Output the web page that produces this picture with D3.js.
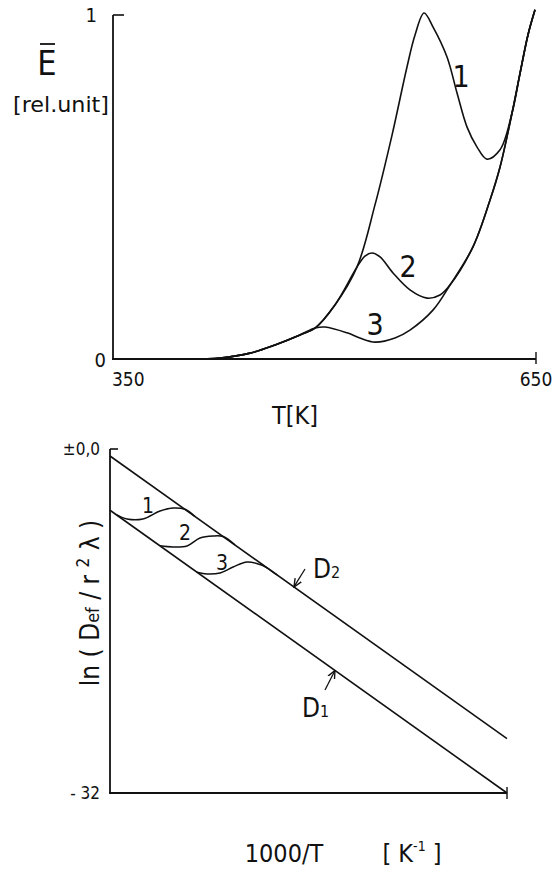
<!DOCTYPE html>
<html><head><meta charset="utf-8">
<script src="https://cdn.jsdelivr.net/npm/d3@7"></script>
<style>
body{margin:0;background:#fff;}
svg{display:block;}
text{font-family:"Liberation Sans Narrow","DejaVu Sans Condensed","Arial Narrow",sans-serif;fill:#111;}
</style></head><body>
<svg id="c" width="555" height="870"></svg>
<script>
// ---------- top panel data: E (rel. unit) vs T [K] ----------
const topXTicks = [350, 650];
const topYTicks = [0, 1];
const envLeftT = [404.6, 425.9, 447.2, 464.9, 482.6, 493.3, 507.4, 523.0, 535.8, 547.9, 558.5, 564.2, 570.6];
const envLeftE = [0, 0.003, 0.017, 0.041, 0.070, 0.090, 0.157, 0.267, 0.448, 0.651, 0.849, 0.942, 1.006];
const envRightT = [535.8, 550.0, 560.6, 576.9, 589.0, 605.3, 617.4, 624.5, 633.0, 638.7, 644.3, 649.3];
const envRightE = [0.049, 0.061, 0.084, 0.142, 0.215, 0.326, 0.462, 0.558, 0.715, 0.831, 0.942, 1.015];
const peak1T = [577.0, 586.9, 594.0, 601.1, 608.2, 615.2, 624.5];
const peak1E = [0.965, 0.878, 0.773, 0.674, 0.616, 0.581, 0.608];
const peak2T = [528.7, 533.7, 539.4, 548.6, 560.6, 572.7, 581.9];
const peak2E = [0.299, 0.308, 0.297, 0.250, 0.201, 0.177, 0.186];
const peak3T = [500.4, 516.0, 525.1];
const peak3E = [0.093, 0.076, 0.061];
const topCurveLabels = ["1", "2", "3"];
const topLabelT = [596.8, 559.2, 535.8];
const topLabelE = [0.823, 0.270, 0.102];

// ---------- bottom panel data: ln(Def / r^2 lambda) vs 1000/T ----------
const botYTicks = [0, -32];
const botYTickLabels = ["\u00b10,0", "- 32"];
const d1X = [1.5, 3.0], d1Y = [-5.7, -32.0];
const d2X = [1.5, 3.0], d2Y = [-0.65, -26.95];
const step1X = [1.526, 1.564, 1.624, 1.689, 1.738, 1.783, 1.821];
const step1Y = [-6.13, -6.51, -6.51, -5.77, -5.49, -5.61, -6.28];
const step2X = [1.689, 1.738, 1.791, 1.840, 1.889, 1.927, 1.972];
const step2Y = [-9.01, -9.12, -9.02, -8.28, -8.09, -8.14, -8.92];
const step3X = [1.829, 1.867, 1.916, 1.965, 2.018, 2.067, 2.093, 2.131];
const step3Y = [-11.47, -11.63, -11.53, -10.98, -10.51, -10.75, -11.05, -11.71];
const botCurveLabels = ["1", "2", "3"];
const botLabelX = [1.6436, 1.783, 1.923];
const botLabelY = [-5.21, -7.72, -10.51];

const zip = (xs, ys) => xs.map((x, i) => [x, ys[i]]);

const svg = d3.select("#c");
const ink = "#111";

// ================= TOP PANEL =================
const xT = d3.scaleLinear().domain([350, 650]).range([113, 536]);
const yE = d3.scaleLinear().domain([0, 1]).range([359, 15]);
const gT = svg.append("g");

gT.append("line").attr("x1", xT(350)).attr("x2", xT(350)).attr("y1", yE(0)).attr("y2", yE(1))
  .attr("stroke", ink).attr("stroke-width", 1.8);
gT.append("line").attr("x1", xT(350) - 1).attr("x2", xT(650)).attr("y1", yE(0)).attr("y2", yE(0))
  .attr("stroke", ink).attr("stroke-width", 1.8);
gT.append("line").attr("x1", xT(350)).attr("x2", xT(350) + 11).attr("y1", yE(1)).attr("y2", yE(1))
  .attr("stroke", ink).attr("stroke-width", 1.6);
gT.append("line").attr("x1", xT(650)).attr("x2", xT(650)).attr("y1", yE(0) - 7).attr("y2", yE(0) + 5)
  .attr("stroke", ink).attr("stroke-width", 1.4);

gT.append("text").attr("x", xT(350) - 16).attr("y", yE(1) + 7).attr("text-anchor", "end")
  .attr("font-size", 20).text(topYTicks[1]);
gT.append("text").attr("x", xT(350) - 7).attr("y", yE(0) + 8).attr("text-anchor", "end")
  .attr("font-size", 20).text(topYTicks[0]);
gT.append("text").attr("x", xT(topXTicks[0]) - 1).attr("y", yE(0) + 27).attr("text-anchor", "start")
  .attr("font-size", 19).text(topXTicks[0]);
gT.append("text").attr("x", xT(topXTicks[1])).attr("y", yE(0) + 27).attr("text-anchor", "middle")
  .attr("font-size", 19).text(topXTicks[1]);

gT.append("text").attr("x", 295).attr("y", 424).attr("text-anchor", "middle")
  .attr("font-size", 25).text("T[K]");
gT.append("text").attr("x", 47).attr("y", 75).attr("text-anchor", "middle")
  .attr("font-size", 34).text("E");
gT.append("line").attr("x1", 40).attr("x2", 55).attr("y1", 44).attr("y2", 44)
  .attr("stroke", ink).attr("stroke-width", 1.8);
gT.append("text").attr("x", 13).attr("y", 112).attr("text-anchor", "start")
  .attr("font-size", 21).attr("textLength", 96).attr("lengthAdjust", "spacingAndGlyphs")
  .text("[rel.unit]");

const lineT = d3.line().x(d => xT(d[0])).y(d => yE(d[1])).curve(d3.curveCatmullRom.alpha(0.5));
const left = zip(envLeftT, envLeftE), right = zip(envRightT, envRightE);
const series1 = left.concat(zip(peak1T, peak1E), right.filter(d => d[0] >= 633));
const series2 = left.filter(d => d[0] <= 523.0).concat(zip(peak2T, peak2E), right.filter(d => d[0] >= 589));
const series3 = left.filter(d => d[0] <= 493.3).concat(zip(peak3T, peak3E), right);
[series1, series2, series3].forEach(s => {
  gT.append("path").attr("d", lineT(s)).attr("fill", "none").attr("stroke", ink).attr("stroke-width", 1.6);
});
topCurveLabels.forEach((l, i) => {
  gT.append("text").attr("x", xT(topLabelT[i])).attr("y", yE(topLabelE[i]) + 11)
    .attr("text-anchor", "middle").attr("font-size", 30).text(l);
});

// ================= BOTTOM PANEL =================
const xB = d3.scaleLinear().domain([1.5, 3.0]).range([110, 507]);
const yB = d3.scaleLinear().domain([-32, 0]).range([793, 449]);
const gB = svg.append("g");

gB.append("line").attr("x1", xB(1.5)).attr("x2", xB(1.5)).attr("y1", yB(-32)).attr("y2", yB(0))
  .attr("stroke", ink).attr("stroke-width", 1.8);
gB.append("line").attr("x1", xB(1.5) - 1).attr("x2", xB(3.0)).attr("y1", yB(-32)).attr("y2", yB(-32))
  .attr("stroke", ink).attr("stroke-width", 1.8);
gB.append("line").attr("x1", xB(1.5)).attr("x2", xB(1.5) + 8).attr("y1", yB(0)).attr("y2", yB(0))
  .attr("stroke", ink).attr("stroke-width", 1.6);
gB.append("line").attr("x1", xB(3.0)).attr("x2", xB(3.0)).attr("y1", yB(-32) - 6).attr("y2", yB(-32) + 6)
  .attr("stroke", ink).attr("stroke-width", 1.4);

botYTicks.forEach((v, i) => {
  gB.append("text").attr("x", xB(1.5) - 10).attr("y", yB(v) + 6).attr("text-anchor", "end")
    .attr("font-size", 17).text(botYTickLabels[i]);
});

gB.append("text").attr("x", 284).attr("y", 862).attr("text-anchor", "middle")
  .attr("font-size", 25).text("1000/T");
const kt = gB.append("text").attr("x", 412).attr("y", 862).attr("text-anchor", "middle")
  .attr("font-size", 25);
kt.append("tspan").text("[ K");
kt.append("tspan").attr("font-size", 14).attr("dy", -11).text("-1");
kt.append("tspan").attr("dy", 11).text(" ]");

const yl = gB.append("text").attr("transform", "translate(99,603) rotate(-90)")
  .attr("text-anchor", "middle").attr("font-size", 26);
yl.append("tspan").text("ln ( D");
yl.append("tspan").attr("font-size", 18).text("ef");
yl.append("tspan").text(" / r ");
yl.append("tspan").attr("font-size", 17).attr("dy", -10).text("2");
yl.append("tspan").attr("dy", 10).text(" \u03bb )");

const lineB = d3.line().x(d => xB(d[0])).y(d => yB(d[1]));
const lineBc = d3.line().x(d => xB(d[0])).y(d => yB(d[1])).curve(d3.curveCatmullRom.alpha(0.5));
[zip(d1X, d1Y), zip(d2X, d2Y)].forEach(s => {
  gB.append("path").attr("d", lineB(s)).attr("fill", "none").attr("stroke", ink).attr("stroke-width", 1.6);
});
[zip(step1X, step1Y), zip(step2X, step2Y), zip(step3X, step3Y)].forEach(s => {
  gB.append("path").attr("d", lineBc(s)).attr("fill", "none").attr("stroke", ink).attr("stroke-width", 1.5);
});
botCurveLabels.forEach((l, i) => {
  gB.append("text").attr("x", xB(botLabelX[i])).attr("y", yB(botLabelY[i]) + 8)
    .attr("text-anchor", "middle").attr("font-size", 21).text(l);
});

svg.append("defs").append("marker").attr("id", "ah").attr("viewBox", "0 0 10 10")
  .attr("refX", 9).attr("refY", 5).attr("markerWidth", 7).attr("markerHeight", 7)
  .attr("orient", "auto").append("path").attr("d", "M0,1 L9,5 L0,9").attr("fill", "none")
  .attr("stroke", ink).attr("stroke-width", 1.5);

gB.append("text").attr("x", xB(2.267)).attr("y", yB(-12.0)).attr("font-size", 26).text("D")
  .append("tspan").attr("font-size", 16).text("2");
gB.append("line").attr("x1", 305).attr("y1", 569).attr("x2", xB(2.195)).attr("y2", yB(-0.65 - 0.695 * 17.53))
  .attr("stroke", ink).attr("stroke-width", 1.3).attr("marker-end", "url(#ah)");
gB.append("text").attr("x", xB(2.2254)).attr("y", yB(-24.93)).attr("font-size", 26).text("D")
  .append("tspan").attr("font-size", 16).text("1");
gB.append("line").attr("x1", 325).attr("y1", 690).attr("x2", xB(2.35)).attr("y2", yB(-5.7 - 0.85 * 17.53))
  .attr("stroke", ink).attr("stroke-width", 1.3).attr("marker-end", "url(#ah)");
</script>
</body></html>
